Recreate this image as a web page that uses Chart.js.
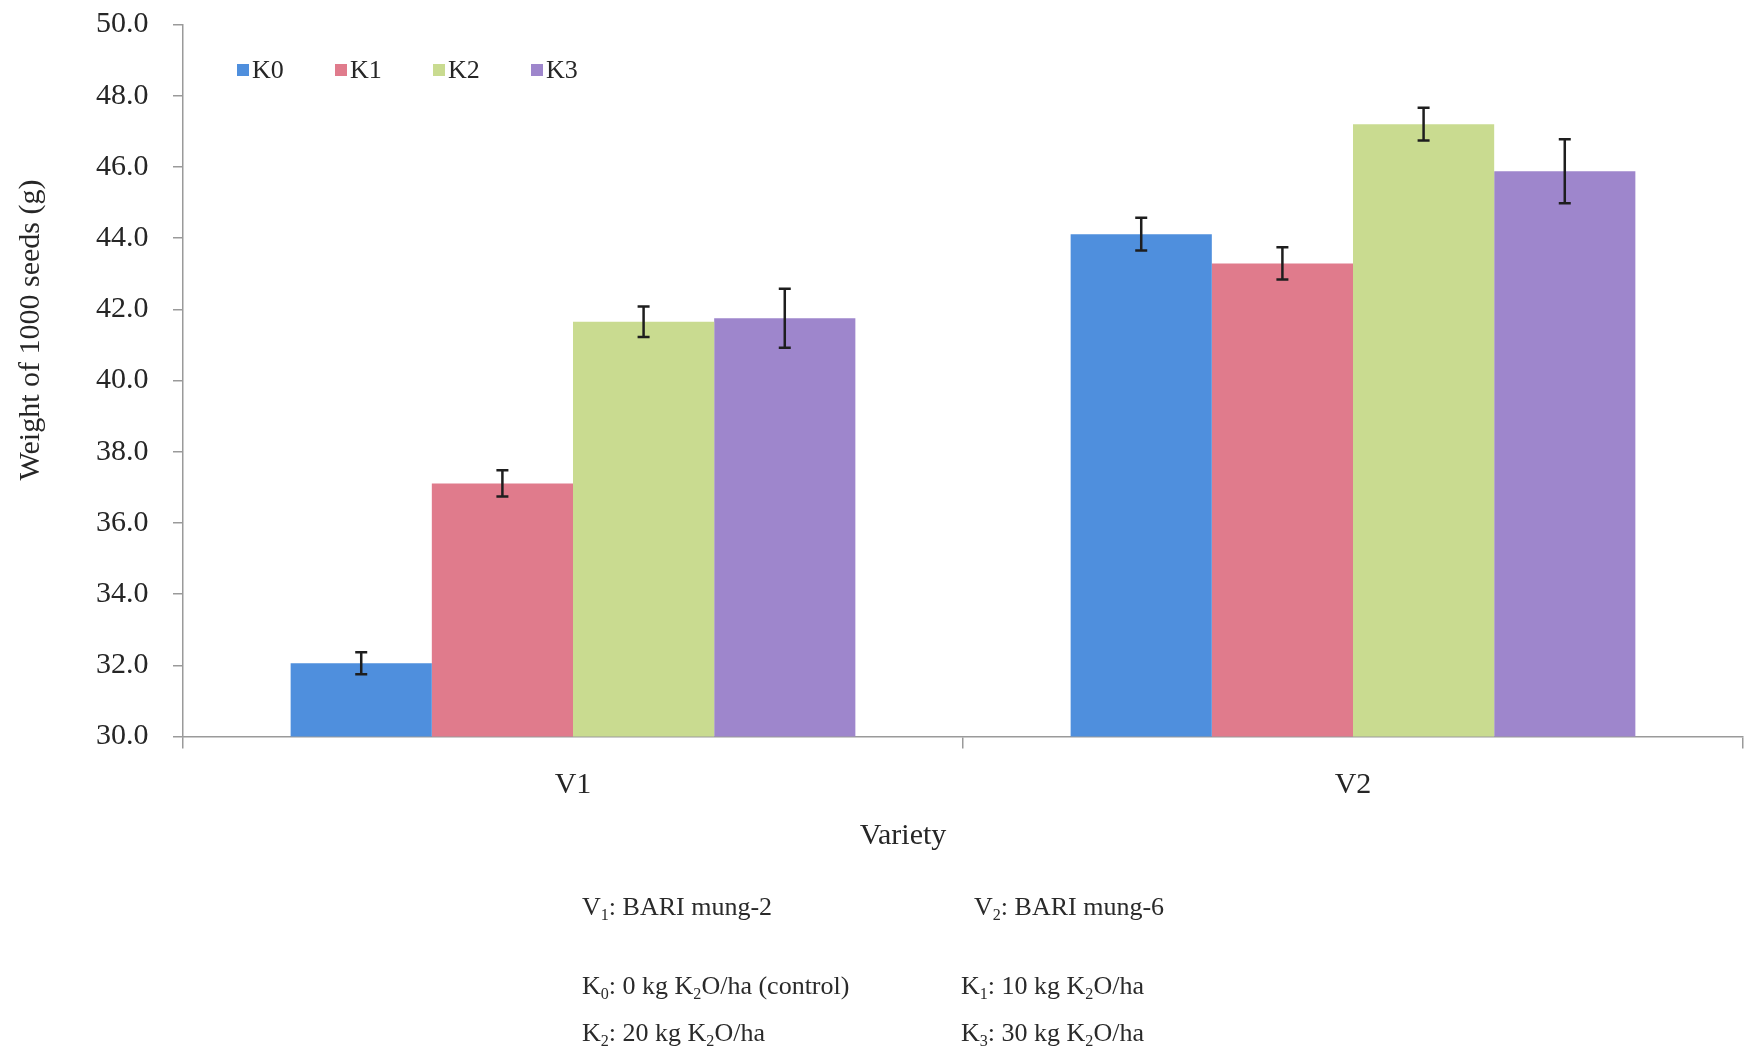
<!DOCTYPE html>
<html>
<head>
<meta charset="utf-8">
<script src="https://cdn.jsdelivr.net/npm/chart.js@4/dist/chart.umd.min.js"></script>
<style>
  html, body { margin: 0; padding: 0; background: #ffffff; }
  #wrap { position: relative; width: 1744px; height: 1048px; overflow: hidden; }
  canvas { position: absolute; left: 0; top: 0; }
  .note { position: absolute; font-family: "Liberation Serif", "Times New Roman", serif; font-size: 26px; line-height: 30px; color: #2a2a2a; white-space: nowrap; }
  .note sub { font-size: 0.62em; vertical-align: -0.28em; line-height: 0; }
</style>
</head>
<body>
<div id="wrap">
  <canvas id="c" width="1744" height="1048"></canvas>
  <div class="note" style="left:582px; top:892px;">V<sub>1</sub>: BARI mung-2</div>
  <div class="note" style="left:974px; top:892px;">V<sub>2</sub>: BARI mung-6</div>
  <div class="note" style="left:582px; top:971px;">K<sub>0</sub>: 0 kg K<sub>2</sub>O/ha (control)</div>
  <div class="note" style="left:961px; top:971px;">K<sub>1</sub>: 10 kg K<sub>2</sub>O/ha</div>
  <div class="note" style="left:582px; top:1018px;">K<sub>2</sub>: 20 kg K<sub>2</sub>O/ha</div>
  <div class="note" style="left:961px; top:1018px;">K<sub>3</sub>: 30 kg K<sub>2</sub>O/ha</div>
</div>
<script>
// ---- data ----
const categories = ['V1', 'V2'];
const seriesLabels = ['K0', 'K1', 'K2', 'K3'];
const k0Values = [32.06, 44.11];
const k1Values = [37.11, 43.29];
const k2Values = [41.65, 47.20];
const k3Values = [41.75, 45.88];
const k0Errors = [0.31, 0.46];
const k1Errors = [0.37, 0.45];
const k2Errors = [0.43, 0.46];
const k3Errors = [0.83, 0.90];
const yMin = 30, yMax = 50, yStep = 2;
const yTitle = 'Weight of 1000 seeds (g)';
const xTitle = 'Variety';

const seriesColors = ['#4F8FDD', '#E07B8C', '#C9DB90', '#9E86CC'];
const seriesValues = [k0Values, k1Values, k2Values, k3Values];
const seriesErrors = [k0Errors, k1Errors, k2Errors, k3Errors];

const FONT = '"Liberation Serif", "Times New Roman", serif';
const TEXT = '#262626';

const datasets = seriesLabels.map((lab, i) => ({
  label: lab,
  data: seriesValues[i],
  errors: seriesErrors[i],
  backgroundColor: seriesColors[i],
  borderWidth: 0,
  categoryPercentage: 0.724,
  barPercentage: 1.0
}));

const errorBars = {
  id: 'errorBars',
  afterDatasetsDraw(chart) {
    const ctx = chart.ctx;
    const ys = chart.scales.y;
    ctx.save();
    ctx.strokeStyle = '#1e1e1e';
    ctx.lineWidth = 2.5;
    chart.data.datasets.forEach((ds, i) => {
      const meta = chart.getDatasetMeta(i);
      meta.data.forEach((el, j) => {
        const v = ds.data[j], e = ds.errors[j];
        const top = ys.getPixelForValue(v + e);
        const bot = ys.getPixelForValue(v - e);
        const x = el.x, cap = 6;
        ctx.beginPath();
        ctx.moveTo(x, top); ctx.lineTo(x, bot);
        ctx.moveTo(x - cap, top); ctx.lineTo(x + cap, top);
        ctx.moveTo(x - cap, bot); ctx.lineTo(x + cap, bot);
        ctx.stroke();
      });
    });
    ctx.restore();
  }
};

const customText = {
  id: 'customText',
  afterDraw(chart) {
    const ctx = chart.ctx;
    ctx.save();
    // legend
    ctx.font = '26px ' + FONT;
    ctx.textBaseline = 'middle';
    ctx.textAlign = 'left';
    const ly = 70;
    chart.data.datasets.forEach((ds, i) => {
      const lx = 237 + i * 98;
      ctx.fillStyle = ds.backgroundColor;
      ctx.fillRect(lx, ly - 6, 12, 12);
      ctx.fillStyle = TEXT;
      ctx.fillText(ds.label, lx + 15, ly + 1);
    });
    // axis titles
    ctx.font = '30px ' + FONT;
    ctx.fillStyle = TEXT;
    ctx.textAlign = 'center';
    ctx.fillText(xTitle, 903, 836);
    ctx.translate(31, 330);
    ctx.rotate(-Math.PI / 2);
    ctx.fillText(yTitle, 0, 0);
    ctx.restore();
  }
};

new Chart(document.getElementById('c'), {
  type: 'bar',
  data: { labels: categories, datasets },
  plugins: [errorBars, customText],
  options: {
    responsive: false,
    animation: false,
    devicePixelRatio: 1,
    layout: { padding: { top: 24.5, right: 1, bottom: 211.5, left: 96 } },
    plugins: { legend: { display: false }, tooltip: { enabled: false } },
    scales: {
      x: {
        afterFit(s) { s.height = 100; },
        grid: { offset: true, drawOnChartArea: false, tickLength: 12, color: '#9a9a9a', lineWidth: 1.5 },
        border: { color: '#9a9a9a', width: 1.5 },
        ticks: { font: { family: FONT, size: 30 }, color: TEXT, padding: 19 }
      },
      y: {
        min: yMin, max: yMax,
        afterFit(s) { s.width = 87; },
        grid: { drawOnChartArea: false, tickLength: 10, color: '#9a9a9a', lineWidth: 1.5 },
        border: { color: '#9a9a9a', width: 1.5 },
        ticks: {
          stepSize: yStep,
          font: { family: FONT, size: 30 },
          color: TEXT,
          padding: 4,
          crossAlign: 'far',
          callback: v => Number(v).toFixed(1)
        }
      }
    }
  }
});
</script>
</body>
</html>
